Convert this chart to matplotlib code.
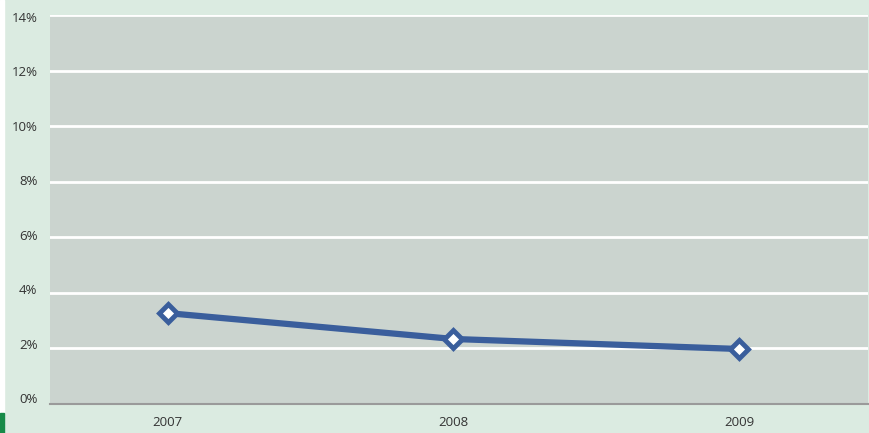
import matplotlib
matplotlib.use("Agg")
import matplotlib.pyplot as plt
import matplotlib.transforms as mtransforms
from matplotlib.patches import Rectangle

years = ["2007", "2008", "2009"]
rates = [3.27, 2.34, 1.98]
y_ticks = [0, 2, 4, 6, 8, 10, 12, 14]

bg = "#dbebe1"
plot_bg = "#cbd4cf"
blue = "#3a5e9c"

plt.rcParams['font.family'] = ['Open Sans', 'DejaVu Sans']

fig = plt.figure(figsize=(8.7, 4.33), dpi=100, facecolor=bg)
ax = fig.add_axes([50 / 870, 1 - 404 / 433, 818 / 870, 389 / 433])
ax.set_facecolor(plot_bg)

# white strip on the left and green tab at the bottom
fig.patches.append(Rectangle((0, 20 / 433), 4 / 870, 1 - 20 / 433, transform=fig.transFigure,
                             color="white", zorder=0))
fig.patches.append(Rectangle((0, 0), 4 / 870, 20 / 433, transform=fig.transFigure,
                             color="#178a48", zorder=0))

x = list(range(len(years)))
ax.plot(x, rates, color=blue, lw=4.5, marker="D", markersize=9,
        markerfacecolor="white", markeredgecolor=blue, markeredgewidth=3.5,
        solid_capstyle="butt", zorder=3)

ax.set_ylim(0, 14)
ax.set_xlim(-0.413, 2.452)
ax.set_yticks(y_ticks)
ax.set_yticklabels([f"{v}%" for v in y_ticks])
ax.set_xticks(x)
ax.set_xticklabels(years)
ax.yaxis.grid(True, color="white", lw=2)
ax.set_axisbelow(True)
ax.tick_params(length=0, labelsize=9.5, colors="#333333")
ax.tick_params(axis="y", pad=9)
ax.tick_params(axis="x", pad=9)

# y labels are spaced a bit tighter than the gridlines
for v, lbl in zip(y_ticks, ax.get_yticklabels()):
    up = (6 - 8 * v / 14) / 100
    shift = mtransforms.ScaledTranslation(0, up, fig.dpi_scale_trans)
    lbl.set_transform(lbl.get_transform() + shift)

for s in ["top", "right", "left"]:
    ax.spines[s].set_visible(False)
ax.spines["bottom"].set_color("#9a9a9a")
ax.spines["bottom"].set_linewidth(1.5)

fig.savefig("out.png", dpi=100, facecolor=bg)
